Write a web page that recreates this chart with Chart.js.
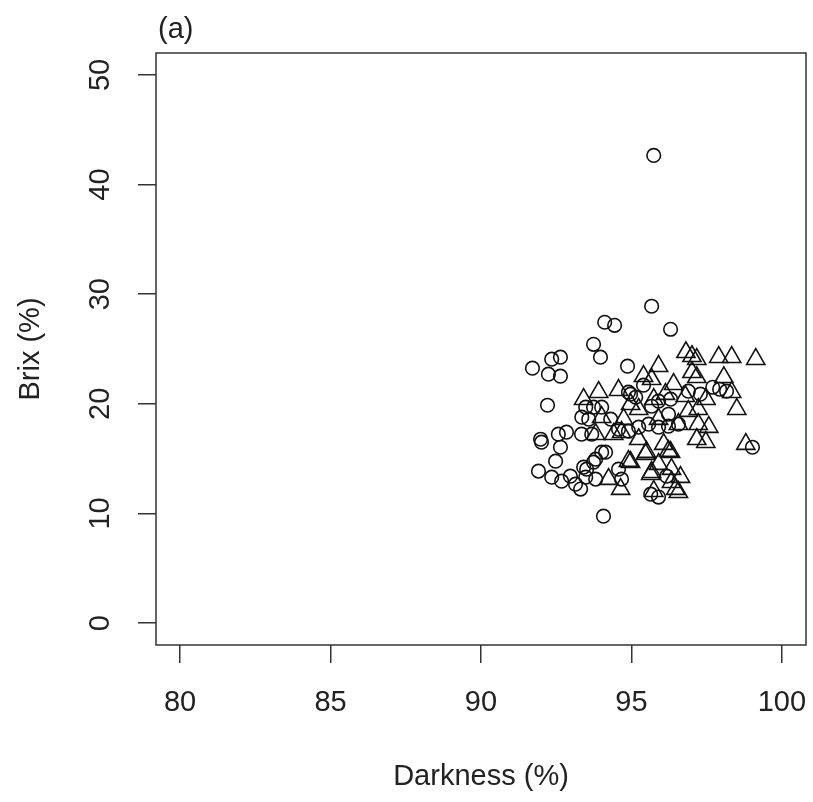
<!DOCTYPE html>
<html>
<head>
<meta charset="utf-8">
<script src="https://cdn.jsdelivr.net/npm/chart.js@4/dist/chart.umd.min.js"></script>
<style>
  body { margin: 0; background: #fff; }
  #wrap { width: 813px; height: 802px; }
</style>
</head>
<body>
<div id="wrap"><canvas id="brixChart" width="813" height="802"></canvas></div>
<script>
// circles (first group) - darkness %, brix %
const circleDark = [95.74, 95.67, 94.11, 94.44, 96.30, 93.74, 93.97, 92.35, 92.64, 91.71,
    92.24, 92.64, 94.87, 92.21, 97.70, 97.93, 98.16, 99.02, 91.98, 92.01,
    92.57, 92.84, 92.64, 93.34, 92.48, 94.01, 94.14, 91.91, 92.35, 92.68,
    92.97, 93.14, 93.31, 93.51, 93.74, 93.81, 93.48, 94.57, 94.67, 94.07,
    93.48, 93.74, 94.01, 93.35, 93.58, 93.68, 94.97, 95.14, 95.67, 95.90,
    95.57, 95.90, 96.23, 96.56, 95.24, 94.90, 96.30, 95.64, 95.90, 96.17,
    93.81, 93.41, 94.31, 94.57, 94.90, 96.89, 97.29, 95.40, 96.23];
const circleBrix = [42.66, 28.90, 27.44, 27.16, 26.80, 25.43, 24.25, 24.07, 24.25, 23.25,
    22.70, 22.52, 23.43, 19.87, 21.51, 21.33, 21.15, 16.04, 16.77, 16.50,
    17.23, 17.41, 16.04, 17.23, 14.77, 15.59, 15.59, 13.86, 13.31, 12.94,
    13.40, 12.67, 12.22, 14.04, 14.68, 13.13, 13.31, 14.04, 13.13, 9.75,
    19.69, 19.69, 19.69, 18.78, 18.60, 17.23, 20.88, 20.60, 19.78, 20.24,
    18.14, 17.87, 17.96, 18.14, 17.87, 21.06, 20.42, 11.76, 11.49, 13.40,
    14.95, 14.22, 18.60, 17.68, 17.50, 21.15, 20.88, 21.70, 19.05];

// triangles (second group)
const triDark = [96.81, 97.01, 97.17, 97.90, 98.33, 99.13, 98.07, 97.01, 97.17, 95.90,
    98.33, 98.50, 98.80, 97.17, 97.47, 97.57, 95.47, 96.30, 95.67, 96.33,
    96.63, 96.47, 95.74, 93.91, 94.57, 94.97, 95.40, 95.67, 93.81, 94.41,
    94.67, 94.90, 94.24, 94.64, 95.50, 96.23, 94.97, 95.64, 96.33, 96.56,
    95.90, 96.56, 96.89, 96.79, 96.13, 96.40, 97.22, 97.48, 95.24, 95.74,
    93.41, 95.24, 96.07, 97.22, 94.01, 94.74, 95.90];
const triBrix = [24.70, 24.34, 24.07, 24.25, 24.25, 24.07, 22.42, 22.88, 22.42, 23.43,
    21.06, 19.51, 16.32, 16.77, 16.50, 17.87, 15.41, 15.59, 13.76, 14.04,
    13.31, 12.22, 12.03, 21.06, 21.24, 19.96, 22.52, 22.24, 17.23, 17.23,
    17.41, 14.77, 13.13, 12.22, 15.59, 15.68, 14.68, 13.58, 12.85, 11.94,
    18.60, 18.14, 19.33, 20.69, 20.88, 21.79, 19.51, 20.42, 19.51, 20.42,
    20.42, 16.77, 16.32, 18.14, 18.78, 18.60, 14.50];

const xTicks = [80, 85, 90, 95, 100];
const yTicks = [0, 10, 20, 30, 40, 50];
const panelLabel = '(a)';

const FONT = 'Liberation Sans, Arial, sans-serif';
const INK = '#333';

function toPoints(xs, ys) {
    return xs.map((x, i) => ({ x: x, y: ys[i] }));
}

// box around the plot region + panel label
const framePlugin = {
    id: 'frame',
    afterDraw(chart) {
        const { ctx, chartArea } = chart;
        ctx.save();
        ctx.strokeStyle = INK;
        ctx.lineWidth = 1.5;
        ctx.strokeRect(chartArea.left, chartArea.top,
            chartArea.right - chartArea.left, chartArea.bottom - chartArea.top);
        ctx.fillStyle = '#222';
        ctx.font = '29px ' + FONT;
        ctx.textBaseline = 'middle';
        ctx.textAlign = 'left';
        ctx.fillText(panelLabel, chartArea.left + 2, 30);
        ctx.restore();
    }
};

const ctx = document.getElementById('brixChart').getContext('2d');
new Chart(ctx, {
    type: 'scatter',
    data: {
        datasets: [{
            data: toPoints(circleDark, circleBrix),
            pointStyle: 'circle',
            pointRadius: 6.8,
            borderColor: '#111',
            backgroundColor: 'rgba(0,0,0,0)',
            pointBorderWidth: 1.6
        }, {
            data: toPoints(triDark, triBrix),
            pointStyle: 'triangle',
            pointRadius: 10.5,
            borderColor: '#111',
            backgroundColor: 'rgba(0,0,0,0)',
            pointBorderWidth: 1.6
        }]
    },
    options: {
        responsive: false,
        animation: false,
        layout: { autoPadding: false, padding: { top: 53, right: 7, left: 0, bottom: 0 } },
        plugins: {
            legend: { display: false },
            tooltip: { enabled: false }
        },
        scales: {
            x: {
                type: 'linear',
                min: 79.2,
                max: 100.8,
                afterBuildTicks: s => { s.ticks = xTicks.map(v => ({ value: v })); },
                afterFit: s => { s.height = 157; s.paddingLeft = 0; s.paddingRight = 0; },
                border: { display: false },
                grid: { drawOnChartArea: false, drawTicks: true, tickLength: 18, color: INK, lineWidth: 1.5 },
                ticks: { color: '#222', font: { family: FONT, size: 29 }, padding: 23, maxRotation: 0 },
                title: { display: true, text: 'Darkness (%)', color: '#222', font: { family: FONT, size: 29 }, padding: { top: 0, bottom: 8 } }
            },
            y: {
                type: 'linear',
                min: -2,
                max: 52,
                afterBuildTicks: s => { s.ticks = yTicks.map(v => ({ value: v })); },
                afterFit: s => { s.width = 156; s.paddingTop = 0; s.paddingBottom = 0; },
                border: { display: false },
                grid: { drawOnChartArea: false, drawTicks: true, tickLength: 18, color: INK, lineWidth: 1.5 },
                ticks: { color: '#222', font: { family: FONT, size: 29 }, padding: 21, minRotation: 90, maxRotation: 90, crossAlign: 'center' },
                title: { display: true, text: 'Brix (%)', color: '#222', font: { family: FONT, size: 29 }, padding: { top: 14, bottom: 0 } }
            }
        }
    },
    plugins: [framePlugin]
});
</script>
</body>
</html>
